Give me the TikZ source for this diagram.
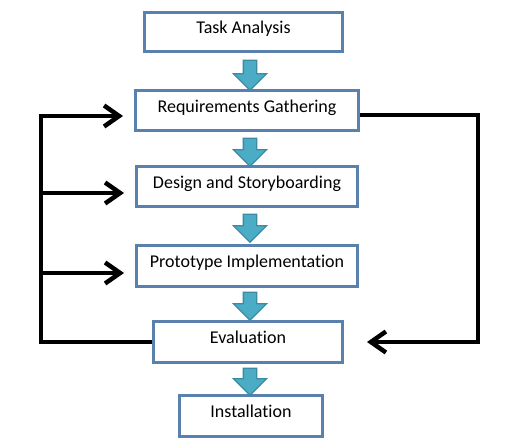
\documentclass[tikz,border=0pt]{standalone}
\usepackage{fontspec}
\setmainfont{Carlito}[Ligatures={NoCommon}]
\usetikzlibrary{arrows.meta,shapes.arrows,calc}
\definecolor{boxblue}{HTML}{5A81AE}
\definecolor{tealfill}{HTML}{4BACC6}
\definecolor{tealedge}{HTML}{3A8BA3}
\tikzset{
  stagebox/.style={draw=boxblue, line width=3pt, fill=white, inner sep=0pt,
    text height=12pt, text depth=8.5pt, font=\fontsize{18pt}{20pt}\selectfont},
  blockarrow/.style={single arrow, shape border rotate=270, draw=tealedge, fill=tealfill,
    line width=1.3pt, single arrow head extend=10pt,
    single arrow head indent=0pt, inner xsep=6pt, inner ysep=0pt},
  fb/.style={line width=4.5pt, black},
  fbtip/.style={-{Straight Barb[length=15pt,width=21pt]}}
}
\begin{document}
\begin{tikzpicture}[x=1pt,y=-1pt]
\useasboundingbox (0,0) rectangle (515,444);
\node[stagebox, minimum width=198pt, minimum height=39pt] (TA) at (243.5,32) {Task Analysis};
\node[stagebox, minimum width=223pt, minimum height=40pt] (RG) at (247,111) {Requirements Gathering};
\node[stagebox, minimum width=221pt, minimum height=40pt] (DS) at (247,186.5) {Design and Storyboarding};
\node[stagebox, minimum width=221pt, minimum height=41pt] (PI) at (247,266) {Prototype Implementation};
\node[stagebox, minimum width=189pt, minimum height=41pt] (EV) at (248,342) {Evaluation};
\node[stagebox, minimum width=143pt, minimum height=41pt] (IN) at (251,416) {Installation};

\node[blockarrow, minimum height=30pt] (a1) at (250,72) {};
\node[blockarrow, minimum height=28pt] (a2) at (250,149) {};
\node[blockarrow, minimum height=28pt] (a3) at (250,225) {};
\node[blockarrow, minimum height=28pt] (a4) at (250,303) {};
\node[blockarrow, minimum height=27pt] (a5) at (250,378.5) {};

\coordinate (Lb) at (41,342);
\coordinate (Rt) at (478,115);
\draw[fb, fbtip, shorten >=11pt] (EV.west) -- (Lb) |- ([yshift=-5pt]RG.west);
\draw[fb, fbtip, shorten >=11pt] ([yshift=-6.5pt]DS.west -| Lb) -- ([yshift=-6.5pt]DS.west);
\draw[fb, fbtip, shorten >=11pt] ([yshift=-7pt]PI.west -| Lb) -- ([yshift=-7pt]PI.west);
\draw[fb, fbtip, shorten >=23pt] ([yshift=-4pt]RG.east) -- (Rt) |- (EV.east);
\end{tikzpicture}
\end{document}
